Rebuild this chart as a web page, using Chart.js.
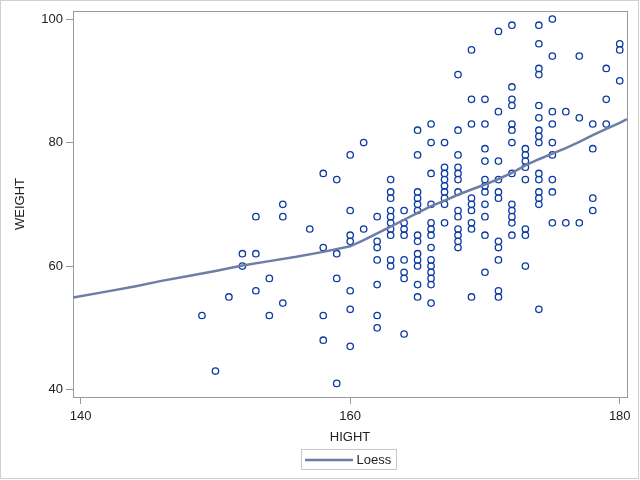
<!DOCTYPE html>
<html>
<head>
<meta charset="utf-8">
<title>WEIGHT by HIGHT</title>
<script src="https://cdn.jsdelivr.net/npm/chart.js@4/dist/chart.umd.min.js"></script>
<style>
  html, body { margin: 0; padding: 0; background: #fff; }
  #wrap { width: 640px; height: 480px; position: relative; }
</style>
</head>
<body>
<div id="wrap"><canvas id="fit"></canvas></div>
<script>
// heights that have at least one observation
const hightValues = [149, 150, 151, 152, 153, 154, 155, 157, 158, 159, 160, 161, 162, 163, 164,
  165, 166, 167, 168, 169, 170, 171, 172, 173, 174, 175, 176, 177, 178, 179, 180];

// weights observed at each height (same order as hightValues)
const weightGroups = [
  [52],
  [43],
  [55],
  [62, 60],
  [68, 62, 56],
  [58, 52],
  [70, 68, 54],
  [66],
  [75, 63, 52, 48],
  [74, 62, 58, 41],
  [78, 69, 65, 64, 56, 53, 47],
  [80, 66],
  [68, 64, 63, 61, 57, 52, 50],
  [74, 72, 71, 69, 68, 67, 66, 65, 61, 60],
  [69, 67, 66, 65, 61, 59, 58, 49],
  [82, 78, 72, 71, 70, 69, 65, 64, 62, 61, 60, 57, 55],
  [83, 80, 75, 70, 67, 66, 65, 63, 61, 60, 59, 58, 57, 54],
  [80, 76, 75, 74, 73, 72, 71, 70, 67],
  [91, 82, 78, 76, 75, 74, 72, 69, 68, 66, 65, 64, 63],
  [95, 87, 83, 71, 70, 69, 67, 66, 55],
  [87, 83, 79, 77, 74, 73, 72, 70, 68, 65, 59],
  [98, 85, 77, 74, 72, 71, 64, 63, 61, 56, 55],
  [99, 89, 87, 86, 83, 82, 80, 75, 70, 69, 68, 67, 65],
  [79, 78, 77, 76, 74, 66, 65, 60],
  [99, 96, 92, 91, 86, 84, 82, 81, 80, 75, 74, 72, 71, 70, 53],
  [100, 94, 85, 83, 80, 78, 74, 72, 67],
  [85, 67],
  [94, 84, 67],
  [83, 79, 71, 69],
  [92, 87, 83],
  [96, 95, 90]
];

// loess fit
const loessHight = [139.43, 142, 144, 146, 148, 150, 152, 154, 156, 158, 160, 161, 162, 163, 164,
  165, 166, 167, 168, 169, 170, 171, 172, 173, 174, 175, 176, 177, 178, 179, 180, 180.54];
const loessWeight = [54.9, 55.9, 56.7, 57.6, 58.4, 59.2, 60.1, 60.8, 61.5, 62.3, 63.2, 64.2, 65.3, 66.4, 67.5,
  68.6, 69.7, 70.6, 71.55, 72.4, 73.2, 74.1, 75.1, 76.3, 77.3, 78.2, 79.1, 80.1, 81.2, 82.2, 83.2, 83.8];

const xTicks = [140, 160, 180];
const yTicks = [40, 60, 80, 100];

const FONT = '"Liberation Sans", Arial, sans-serif';
const FRAME = '#9a9a9a';
const MARKER = '#0b3aa3';
const FIT_COLOR = '#6d7ea6';

const points = [];
hightValues.forEach((h, i) => {
  weightGroups[i].forEach(w => points.push({ x: h, y: w }));
});
const loessPoints = loessHight.map((h, i) => ({ x: h, y: loessWeight[i] }));

// white page, frame round the plot, thin border round the picture, legend box
const decor = {
  id: 'decor',
  beforeDraw(chart) {
    const ctx = chart.ctx;
    ctx.save();
    ctx.fillStyle = '#fff';
    ctx.fillRect(0, 0, chart.width, chart.height);
    ctx.restore();
  },
  beforeDatasetsDraw(chart) {
    const { ctx, chartArea: a } = chart;
    ctx.save();
    ctx.strokeStyle = FRAME;
    ctx.lineWidth = 1;
    ctx.strokeRect(Math.round(a.left) + 0.5, Math.round(a.top) + 0.5,
      Math.round(a.right - a.left), Math.round(a.bottom - a.top));
    ctx.restore();
  },
  afterDraw(chart) {
    const { ctx, chartArea: a } = chart;
    ctx.save();
    ctx.strokeStyle = '#d0d0d0';
    ctx.lineWidth = 1;
    ctx.strokeRect(0.5, 0.5, chart.width - 2, chart.height - 2);

    // legend
    const label = chart.data.datasets[0].label;
    ctx.font = '13px ' + FONT;
    const tw = ctx.measureText(label).width;
    const lineLen = 48;
    const boxW = 4 + lineLen + 3 + tw + 5;
    const boxH = 20;
    const cx = (a.left + a.right) / 2;
    const bx = Math.round(cx - boxW / 2) - 1.5;
    const by = 449.5;
    ctx.strokeStyle = '#c8c8c8';
    ctx.strokeRect(bx, by, Math.round(boxW), boxH);
    ctx.strokeStyle = FIT_COLOR;
    ctx.lineWidth = 2.5;
    ctx.beginPath();
    ctx.moveTo(bx + 3.5, by + 10.5);
    ctx.lineTo(bx + 3.5 + lineLen, by + 10.5);
    ctx.stroke();
    ctx.fillStyle = '#222';
    ctx.textBaseline = 'middle';
    ctx.textAlign = 'left';
    ctx.fillText(label, bx + 4 + lineLen + 3, by + 10.5);
    ctx.restore();
  }
};

new Chart(document.getElementById('fit'), {
  type: 'scatter',
  data: {
    datasets: [
      {
        label: 'Loess',
        data: loessPoints,
        showLine: true,
        borderColor: FIT_COLOR,
        borderWidth: 2.5,
        pointRadius: 0,
        tension: 0,
        order: 0
      },
      {
        label: 'WEIGHT',
        data: points,
        pointStyle: 'circle',
        pointRadius: 3.2,
        pointBorderWidth: 1.3,
        borderColor: MARKER,
        backgroundColor: 'rgba(0,0,0,0)',
        order: 1
      }
    ]
  },
  options: {
    responsive: true,
    maintainAspectRatio: false,
    animation: false,
    devicePixelRatio: 1,
    layout: { padding: { top: 11, right: 13, bottom: 35, left: 0 } },
    plugins: {
      legend: { display: false },
      tooltip: { enabled: false }
    },
    scales: {
      x: {
        type: 'linear',
        min: 139.43,
        max: 180.54,
        afterBuildTicks: s => { s.ticks = xTicks.map(v => ({ value: v })); },
        afterFit: s => { s.height = 48; },
        grid: { drawOnChartArea: false, drawTicks: true, tickLength: 7, color: FRAME },
        border: { display: false },
        ticks: { color: '#222', font: { family: FONT, size: 13 }, padding: 5, maxRotation: 0 },
        title: { display: true, text: 'HIGHT', color: '#222', font: { family: FONT, size: 13 }, padding: { top: 0, bottom: 0 } }
      },
      y: {
        type: 'linear',
        min: 38.8,
        max: 101.3,
        afterBuildTicks: s => { s.ticks = yTicks.map(v => ({ value: v })); },
        afterFit: s => { s.width = 73; },
        grid: { drawOnChartArea: false, drawTicks: true, tickLength: 7, color: FRAME },
        border: { display: false },
        ticks: { color: '#222', font: { family: FONT, size: 13 }, padding: 3 },
        title: { display: true, text: 'WEIGHT', color: '#222', font: { family: FONT, size: 13 }, padding: { top: 13, bottom: 0 } }
      }
    }
  },
  plugins: [decor]
});
</script>
</body>
</html>
